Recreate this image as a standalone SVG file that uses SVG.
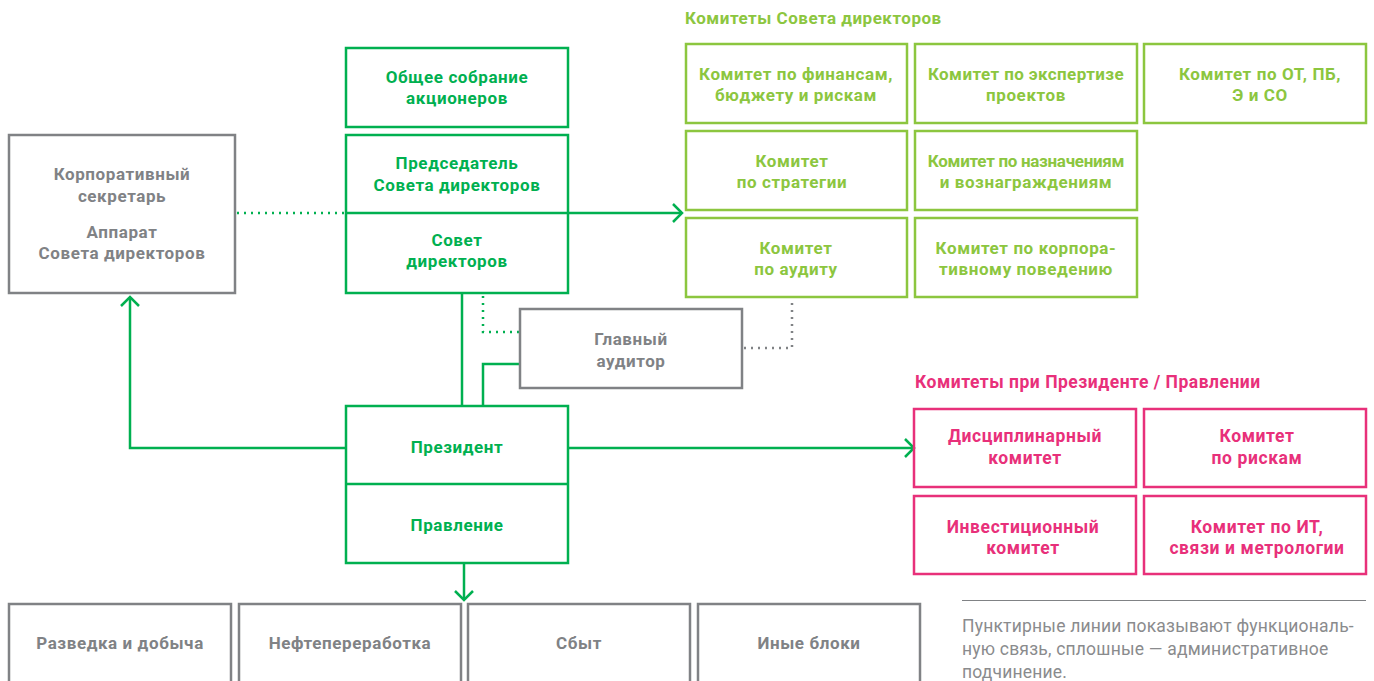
<svg xmlns="http://www.w3.org/2000/svg" width="1374" height="681" viewBox="0 0 1374 681">
<defs>
<style>
text{font-family:Roboto,"Liberation Sans",sans-serif;font-weight:700;font-size:17px;letter-spacing:0.6px;text-anchor:middle}
.g{fill:none;stroke:#00b050;stroke-width:2.5}
.lg{fill:none;stroke:#8cc63f;stroke-width:2.5}
.pk{fill:none;stroke:#e8307a;stroke-width:2.5}
.gr{fill:none;stroke:#808285;stroke-width:2.5}
.tg{fill:#00b050}
.tlg{fill:#8cc63f}
.tpk{fill:#e8307a;font-size:17.5px}
.tgr{fill:#808285}
.dotg{fill:none;stroke:#00b050;stroke-width:2.5;stroke-dasharray:2 5}
.dotgr{fill:none;stroke:#808285;stroke-width:2.5;stroke-dasharray:2 5}
.note{font-weight:400;font-size:17.5px;letter-spacing:0.2px;text-anchor:start;fill:#8a8b8d}
</style>
<marker id="arr" markerUnits="userSpaceOnUse" markerWidth="14" markerHeight="22" refX="11" refY="11" orient="auto" viewBox="0 0 14 22">
<path d="M2,2 L11,11 L2,20" fill="none" stroke="#00b050" stroke-width="2.5"/>
</marker>
</defs>

<g id="connectors">
<line class="dotg" x1="237" y1="213" x2="346" y2="213"/>
<line class="g" x1="568" y1="213" x2="682" y2="213" marker-end="url(#arr)"/>
<line class="g" x1="462" y1="294" x2="462" y2="406"/>
<polyline class="dotg" points="483,296 483,332 519,332"/>
<polyline class="g" points="519,364 483,364 483,406"/>
<polyline class="dotgr" points="744,348 792,348 792,298"/>
<polyline class="g" points="346,448 130,448 130,297" marker-end="url(#arr)"/>
<line class="g" x1="568" y1="448" x2="914" y2="448" marker-end="url(#arr)"/>
<line class="g" x1="464" y1="563" x2="464" y2="600" marker-end="url(#arr)"/>
</g>

<g id="corp-secretary">
<rect class="gr" x="9" y="135" width="226" height="158"/>
<text class="tgr" x="122" y="180">Корпоративный</text>
<text class="tgr" x="122" y="202">секретарь</text>
<text class="tgr" x="122" y="238">Аппарат</text>
<text class="tgr" x="122" y="259">Совета директоров</text>
</g>

<g id="shareholders">
<rect class="g" x="346" y="48" width="222" height="79"/>
<text class="tg" x="457" y="83">Общее собрание</text>
<text class="tg" x="457" y="104">акционеров</text>
</g>

<g id="board">
<rect class="g" x="346" y="135" width="222" height="158"/>
<line class="g" x1="346" y1="213" x2="568" y2="213"/>
<text class="tg" x="457" y="169">Председатель</text>
<text class="tg" x="457" y="191">Совета директоров</text>
<text class="tg" x="457" y="246">Совет</text>
<text class="tg" x="457" y="267">директоров</text>
</g>

<g id="chief-auditor">
<rect class="gr" x="520" y="309" width="222" height="79"/>
<text class="tgr" x="631" y="345">Главный</text>
<text class="tgr" x="631" y="367">аудитор</text>
</g>

<g id="president">
<rect class="g" x="346" y="406" width="222" height="157"/>
<line class="g" x1="346" y1="484" x2="568" y2="484"/>
<text class="tg" x="457" y="453">Президент</text>
<text class="tg" x="457" y="531">Правление</text>
</g>

<g id="board-committees">
<text class="tlg" x="685" y="24" style="text-anchor:start;letter-spacing:0.5px">Комитеты Совета директоров</text>
<g id="c-finance"><rect class="lg" x="686" y="44" width="221" height="79"/>
<text class="tlg" x="796" y="80">Комитет по финансам,</text><text class="tlg" x="796" y="101">бюджету и рискам</text></g>
<g id="c-expertise"><rect class="lg" x="915" y="44" width="222" height="79"/>
<text class="tlg" x="1026" y="80" style="letter-spacing:0.4px">Комитет по экспертизе</text><text class="tlg" x="1026" y="101">проектов</text></g>
<g id="c-ot"><rect class="lg" x="1144" y="44" width="222" height="79"/>
<text class="tlg" x="1260" y="80">Комитет по ОТ, ПБ,</text><text class="tlg" x="1260" y="101">Э и СО</text></g>
<g id="c-strategy"><rect class="lg" x="686" y="131" width="221" height="79"/>
<text class="tlg" x="792" y="167">Комитет</text><text class="tlg" x="792" y="188">по стратегии</text></g>
<g id="c-nominations"><rect class="lg" x="915" y="131" width="222" height="79"/>
<text class="tlg" x="1026" y="167" style="letter-spacing:-0.3px">Комитет по назначениям</text><text class="tlg" x="1026" y="188">и вознаграждениям</text></g>
<g id="c-audit"><rect class="lg" x="686" y="218" width="221" height="79"/>
<text class="tlg" x="796" y="254">Комитет</text><text class="tlg" x="796" y="275">по аудиту</text></g>
<g id="c-governance"><rect class="lg" x="915" y="218" width="222" height="79"/>
<text class="tlg" x="1026" y="254">Комитет по корпора-</text><text class="tlg" x="1026" y="275">тивному поведению</text></g>
</g>

<g id="president-committees">
<text class="tpk" x="915" y="388" style="text-anchor:start;letter-spacing:0.5px">Комитеты при Президенте / Правлении</text>
<g id="c-disciplinary"><rect class="pk" x="914" y="409" width="222" height="78"/>
<text class="tpk" x="1025" y="442">Дисциплинарный</text><text class="tpk" x="1025" y="464">комитет</text></g>
<g id="c-risks"><rect class="pk" x="1144" y="409" width="222" height="78"/>
<text class="tpk" x="1257" y="442">Комитет</text><text class="tpk" x="1257" y="464">по рискам</text></g>
<g id="c-investment"><rect class="pk" x="914" y="496" width="222" height="78"/>
<text class="tpk" x="1023" y="533">Инвестиционный</text><text class="tpk" x="1023" y="554">комитет</text></g>
<g id="c-it"><rect class="pk" x="1144" y="496" width="222" height="78"/>
<text class="tpk" x="1257" y="533">Комитет по ИТ,</text><text class="tpk" x="1257" y="554">связи и метрологии</text></g>
</g>

<g id="divisions">
<g id="d-upstream"><rect class="gr" x="9" y="604" width="222" height="90"/><text class="tgr" x="120" y="649">Разведка и добыча</text></g>
<g id="d-refining"><rect class="gr" x="239" y="604" width="222" height="90"/><text class="tgr" x="350" y="649">Нефтепереработка</text></g>
<g id="d-sales"><rect class="gr" x="468" y="604" width="222" height="90"/><text class="tgr" x="579" y="649">Сбыт</text></g>
<g id="d-other"><rect class="gr" x="698" y="604" width="222" height="90"/><text class="tgr" x="809" y="649">Иные блоки</text></g>
</g>

<g id="legend">
<line x1="962" y1="600.5" x2="1366" y2="600.5" stroke="#808285" stroke-width="1.2"/>
<text class="note" x="962" y="632">Пунктирные линии показывают функциональ-</text>
<text class="note" x="962" y="655">ную связь, сплошные — административное</text>
<text class="note" x="962" y="678">подчинение.</text>
</g>
</svg>
